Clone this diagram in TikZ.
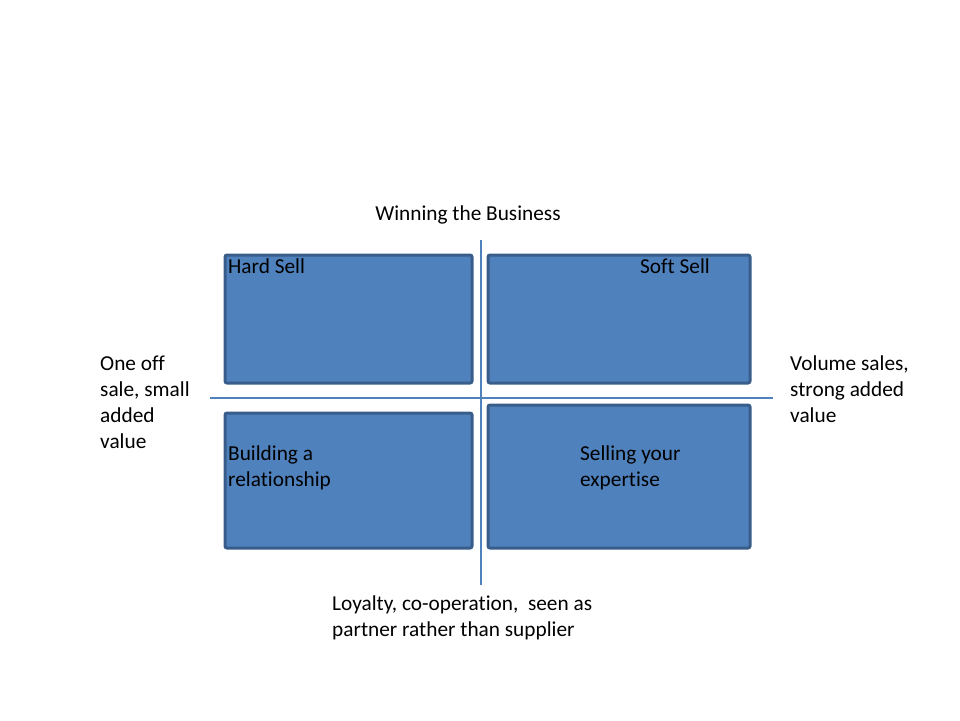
\documentclass[tikz,border=0pt]{standalone}
\usepackage{fontspec}
\setmainfont{Carlito}[RawFeature={-liga}]
\definecolor{boxfill}{HTML}{4F81BD}
\definecolor{boxedge}{HTML}{385D8A}
\definecolor{axis}{HTML}{4F81BD}
\begin{document}
\begin{tikzpicture}[x=1pt,y=-1pt,
  quad/.style={draw=boxedge,fill=boxfill,line width=3pt,rounded corners=2pt},
  lbl/.style={inner sep=0pt,anchor=base west,align=left,font=\fontsize{21.3}{26}\selectfont,text=black},
  axisline/.style={draw=axis,line width=1.2pt}]
\useasboundingbox (0,0) rectangle (960,720);
% axes
\coordinate (vt) at (481,240);
\coordinate (vb) at (481,585);
\coordinate (hl) at (210,398);
\coordinate (hr) at (773,398);
\draw[axisline] (vt) -- (vb);
\draw[axisline] (hl) -- (hr);
% boxes
\draw[quad] (225,255) rectangle (472,383);
\draw[quad] (488,255) rectangle (750,383);
\draw[quad] (225,413) rectangle (472,548);
\draw[quad] (488,405) rectangle (750,548);
% labels
\node[lbl,anchor=base] (title) at (468,220) {Winning the Business};
\node[lbl] (hard) at (228,273) {Hard Sell};
\node[lbl] (soft) at (640,273) {Soft Sell};
\node[lbl] (build) at (228,486) {Building a\\relationship};
\node[lbl] (exp) at (580,486) {Selling your\\expertise};
\node[lbl] (left) at (100,448) {One off\\sale, small\\added\\value};
\node[lbl] (right) at (790,422) {Volume sales,\\strong added\\value};
\node[lbl] (bottom) at (332,636) {Loyalty, co-operation,\ \ seen as\\partner rather than supplier};
\end{tikzpicture}
\end{document}
